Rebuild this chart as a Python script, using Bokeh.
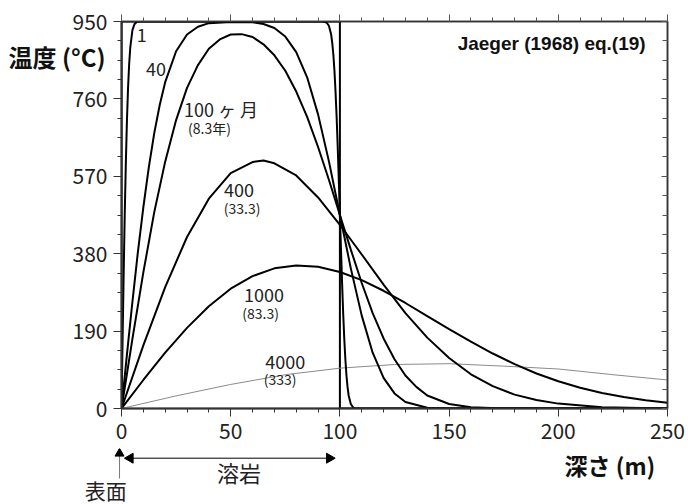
import math
from bokeh.plotting import figure
from bokeh.layouts import column
from bokeh.models import Range1d, LinearAxis, FixedTicker, Label, CustomJSTickFormatter
from bokeh.core.properties import value
from bokeh.embed import file_html
from bokeh.resources import INLINE

# ---------------- data (depth m, temperature degC) ----------------
x_initial = [0, 0, 100, 100, 250]
t_initial = [0, 950, 950, 0, 0]

x_m1 = [0, 0.5, 1, 1.5, 2, 2.5, 3, 3.5, 4, 5, 6, 7, 8, 92, 93, 94, 95, 96, 96.5,
        97, 97.5, 98, 98.5, 99, 99.5, 100, 100.5, 101, 101.5, 102, 102.5, 103,
        103.5, 104, 105, 106, 107, 250]
t_m1 = [0, 171, 334, 482, 606, 708, 787, 845, 885, 929, 944, 949, 950, 950, 949,
        947, 939, 918, 897, 869, 829, 778, 716, 642, 561, 475, 390, 308, 234,
        172, 121, 81, 53, 32, 11, 3, 0, 0]

x_m40 = [0, 2.5, 5, 7.5, 10, 12.5, 15, 17.5, 20, 25, 30, 35, 40, 50, 60, 65, 70,
         75, 80, 85, 90, 95, 100, 105, 110, 115, 120, 125, 130, 140, 150, 250]
t_m40 = [0, 133, 262, 384, 494, 592, 676, 745, 801, 877, 918, 937, 946, 949, 948,
         944, 934, 913, 875, 813, 722, 606, 475, 344, 228, 137, 75, 37, 16, 2, 0, 0]

x_m100 = [0, 5, 10, 15, 20, 25, 30, 35, 40, 45, 50, 55, 60, 65, 70, 75, 80, 85,
          90, 95, 100, 105, 110, 115, 120, 125, 130, 135, 140, 150, 160, 175, 250]
t_m100 = [0, 171, 334, 482, 606, 708, 787, 843, 883, 906, 918, 919, 912, 894, 867,
          829, 778, 716, 642, 561, 475, 390, 308, 234, 172, 121, 81, 53, 32, 11,
          3, 0, 0]

x_m400 = [0, 10, 20, 30, 40, 50, 60, 65, 70, 80, 90, 100, 110, 120, 130, 140,
          150, 160, 170, 180, 190, 200, 220, 250]
t_m400 = [0, 155, 298, 421, 515, 578, 605, 609, 602, 572, 518, 451, 378, 304,
          234, 174, 124, 84, 55, 34, 21, 12, 3, 0]

x_m1000 = [0, 10, 20, 30, 40, 50, 60, 70, 80, 90, 100, 110, 120, 130, 140, 150,
           160, 170, 180, 190, 200, 210, 220, 230, 240, 250]
t_m1000 = [0, 70, 137, 198, 251, 294, 325, 344, 351, 348, 335, 315, 289, 259,
           227, 195, 164, 135, 109, 86, 67, 51, 38, 28, 20, 14]

x_m4000 = [0, 25, 50, 75, 100, 125, 150, 175, 200, 225, 250]
t_m4000 = [0, 31, 59, 83, 99, 108, 110, 104, 97, 83, 70]

x_ticks = [0, 50, 100, 150, 200, 250]
x_minor = list(range(0, 251, 10))
y_ticks = [0, 190, 380, 570, 760, 950]
y_minor = [i * 47.5 for i in range(21)]

curve_labels = ["1", "40", "100 ヶ 月", "(8.3年)", "400", "(33.3)",
                "1000", "(83.3)", "4000", "(333)"]
y_title = "温度 (°C)"
x_title = "深さ (m)"
lava_text = "溶岩"
surface_text = "表面"
title_text = "Jaeger (1968) eq.(19)"

JP = "Noto Sans CJK JP"
DARK = "#333333"

# ---------------- main figure ----------------
p = figure(width=688, height=448, x_range=Range1d(0, 250), y_range=Range1d(0, 950),
           output_backend="svg", toolbar_location=None,
           min_border_left=121, min_border_right=21, min_border_top=21,
           min_border_bottom=40)
p.xgrid.visible = False
p.ygrid.visible = False
p.outline_line_color = DARK
p.outline_line_width = 1.5

xa = p.xaxis[0]
xa.ticker = FixedTicker(ticks=x_ticks, minor_ticks=x_minor)
xa.axis_line_width = 2
xa.axis_line_color = DARK
xa.major_tick_out = 8
xa.major_tick_in = 0
xa.minor_tick_out = 4
xa.minor_tick_in = 0
xa.major_tick_line_color = DARK
xa.minor_tick_line_color = DARK
xa.major_label_text_font = JP
xa.major_label_text_font_size = "21px"
xa.major_label_text_color = "#222222"
xa.major_label_standoff = 6

ya = p.yaxis[0]
ya.ticker = FixedTicker(ticks=y_ticks, minor_ticks=y_minor)
ya.axis_line_width = 2
ya.axis_line_color = DARK
ya.major_tick_out = 8
ya.major_tick_in = 0
ya.minor_tick_out = 4
ya.minor_tick_in = 0
ya.major_tick_line_color = DARK
ya.minor_tick_line_color = DARK
ya.major_label_text_font = JP
ya.major_label_text_font_size = "21px"
ya.major_label_text_color = "#222222"
ya.major_label_standoff = 6

# horizontal y title drawn by an extra (invisible) left axis with a single label
title_pos = 863
ylab = LinearAxis(ticker=FixedTicker(ticks=[title_pos]),
                  major_label_overrides={title_pos: y_title},
                  axis_line_color=None, major_tick_line_color=None,
                  minor_tick_line_color=None, major_tick_out=0, major_tick_in=0,
                  minor_tick_out=0, minor_tick_in=0, major_label_standoff=-36,
                  major_label_text_font=JP, major_label_text_font_style="bold",
                  major_label_text_font_size="24px", major_label_text_color="#111111")
p.add_layout(ylab, "left")

empty = CustomJSTickFormatter(code="return ''")
top = LinearAxis(ticker=FixedTicker(ticks=x_ticks, minor_ticks=x_minor),
                 formatter=empty, major_tick_out=7, major_tick_in=0,
                 minor_tick_out=4, minor_tick_in=0, major_label_standoff=0,
                 axis_line_color=DARK, axis_line_width=1.5,
                 major_tick_line_color="#555555", minor_tick_line_color="#555555",
                 major_label_text_font_size="1px")
p.add_layout(top, "above")
right = LinearAxis(ticker=FixedTicker(ticks=y_ticks, minor_ticks=y_minor),
                   formatter=empty, major_tick_out=0, major_tick_in=6,
                   minor_tick_out=0, minor_tick_in=5, major_label_standoff=0,
                   axis_line_color=DARK, axis_line_width=1.5,
                   major_tick_line_color="#555555", minor_tick_line_color="#555555",
                   major_label_text_font_size="1px")
p.add_layout(right, "right")

# curves
p.line(x_initial, t_initial, line_color="black", line_width=2)
p.line(x_m4000, t_m4000, line_color="#8a8a8a", line_width=1)
for xs, ts in [(x_m1, t_m1), (x_m40, t_m40), (x_m100, t_m100),
               (x_m400, t_m400), (x_m1000, t_m1000)]:
    p.line(xs, ts, line_color="black", line_width=2)

# curve labels
label_specs = [
    (curve_labels[0], 9.3, 918, "18px"),
    (curve_labels[1], 15.8, 834, "18px"),
    (curve_labels[2], 45.6, 735, "18px"),
    (curve_labels[3], 40.3, 688, "14px"),
    (curve_labels[4], 53.8, 537, "18px"),
    (curve_labels[5], 55.2, 491, "14px"),
    (curve_labels[6], 65.2, 279, "18px"),
    (curve_labels[7], 63.7, 234, "14px"),
    (curve_labels[8], 75.0, 114, "18px"),
    (curve_labels[9], 72.6, 73, "14px"),
]
for txt, lx, ly, fs in label_specs:
    p.add_layout(Label(x=lx, y=ly, text=txt, text_font=JP, text_font_size=fs,
                       text_color="#222222", text_align="center",
                       text_baseline="middle"))

p.add_layout(Label(x=240.0, y=896, text=title_text,
                   text_font="Liberation Sans", text_font_style="bold",
                   text_font_size="19px", text_color="#111111",
                   text_align="right", text_baseline="middle"))

# ---------------- strip below the axis (same depth scale, wider view) ----------------
b = figure(width=688, height=56, x_range=Range1d(-55.4, 259.6), y_range=Range1d(0, 56),
           output_backend="svg", toolbar_location=None, min_border=0,
           x_axis_type=None, y_axis_type=None)
b.frame_align = False
b.xgrid.visible = False
b.ygrid.visible = False
b.outline_line_color = None

# double arrow spanning the lava sheet
b.segment(x0=[4.0], y0=[46.3], x1=[95.2], y1=[46.3], line_color="black", line_width=1)
b.scatter(x=[4.0], y=[46.3], marker="triangle", size=10, angle=math.pi / 2,
          fill_color="black", line_color="black")
b.scatter(x=[95.2], y=[46.3], marker="triangle", size=10, angle=-math.pi / 2,
          fill_color="black", line_color="black")
# arrow pointing to the surface
b.segment(x0=[-0.9], y0=[26], x1=[-0.9], y1=[50], line_color="#777777", line_width=1)
b.scatter(x=[-0.9], y=[51], marker="triangle", size=9,
          fill_color="black", line_color="black")

b.text(x=[53.8], y=[33], text=[lava_text], text_font=value(JP), text_font_size="22px",
       text_color="#222222", text_align="center", text_baseline="middle")
b.text(x=[-7.2], y=[15], text=[surface_text], text_font=value(JP),
       text_font_size="21px", text_color="#222222", text_align="center",
       text_baseline="middle")
b.text(x=[223.6], y=[40], text=[x_title], text_font=value(JP), text_font_style="bold",
       text_font_size="23px", text_color="#111111", text_align="center",
       text_baseline="middle")

layout = column(p, b)
open("out.html", "w").write(file_html(layout, INLINE))
